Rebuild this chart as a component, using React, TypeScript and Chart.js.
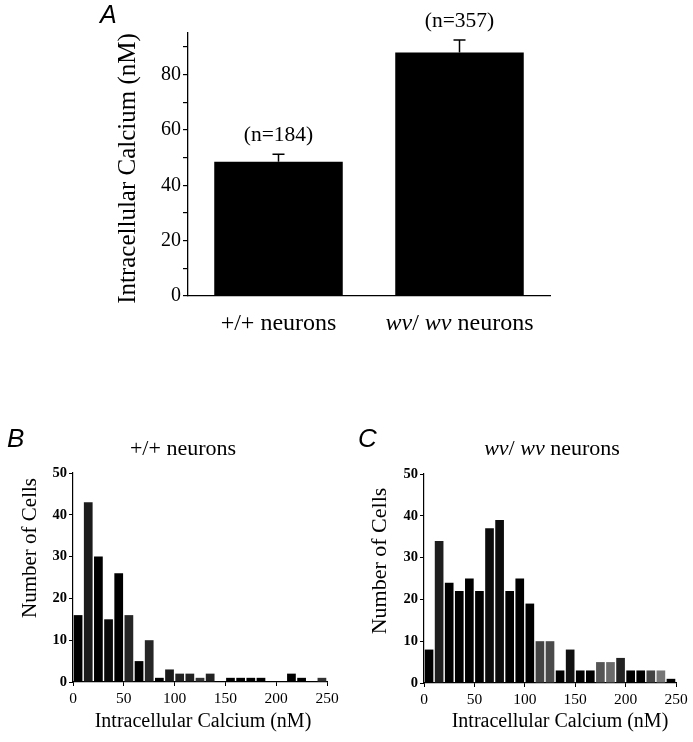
import React, { useEffect, useRef } from "react";
import { Chart, registerables } from "chart.js";

Chart.register(...registerables);

// ---------- DATA ----------
const categoriesA = ["+/+ neurons", "wv/ wv neurons"];
const meansA = [48.5, 88];
const errorsA = [2.7, 4.5];
const nLabelsA = ["(n=184)", "(n=357)"];
const yTicksA = [0, 20, 40, 60, 80];

// histogram bins (10 nM wide), bin centres
const binCenters = [5, 15, 25, 35, 45, 55, 65, 75, 85, 95, 105, 115, 125, 135, 145, 155, 165, 175, 185, 195, 205, 215, 225, 235, 245];
const countsB = [16, 43, 30, 15, 26, 16, 5, 10, 1, 3, 2, 2, 1, 2, 0, 1, 1, 1, 1, 0, 0, 2, 1, 0, 1];
const countsC = [8, 34, 24, 22, 25, 22, 37, 39, 22, 25, 19, 10, 10, 3, 8, 3, 3, 5, 5, 6, 3, 3, 3, 3, 1];
const xTicksHist = [0, 50, 100, 150, 200, 250];
const yTicksHist = [0, 10, 20, 30, 40, 50];

const titleB = "+/+ neurons";
const titleC = "wv/ wv neurons";
const xTitleHist = "Intracellular Calcium (nM)";
const yTitleHist = "Number of Cells";
const yTitleA = "Intracellular Calcium (nM)";

// ---------- STYLES ----------
const shadesB = ["#000", "#1c1c1c", "#000", "#0a0a0a", "#000", "#262626", "#000", "#262626", "#000", "#1a1a1a", "#222", "#222", "#333", "#222", "#000", "#000", "#000", "#000", "#000", "#000", "#000", "#000", "#000", "#000", "#333"];
const shadesC = ["#000", "#1e1e1e", "#000", "#000", "#000", "#000", "#0c0c0c", "#0c0c0c", "#000", "#000", "#000", "#444", "#4a4a4a", "#000", "#111", "#000", "#000", "#555", "#6a6a6a", "#222", "#000", "#000", "#444", "#777", "#000"];

const SERIF = "'Liberation Serif', 'Times New Roman', serif";
const SANS = "'Liberation Sans', Arial, sans-serif";

type TextItem = {
  text: string;
  x: number;
  y: number;
  size: number;
  align?: CanvasTextAlign;
  baseline?: CanvasTextBaseline;
  rotate?: boolean;
  family?: string;
  style?: string;
};

function drawMixed(ctx: CanvasRenderingContext2D, text: string, cx: number, y: number, size: number) {
  const parts = text.split(/(wv)/);
  const fontFor = (i: number) => `${i % 2 === 1 ? "italic " : ""}${size}px ${SERIF}`;
  let total = 0;
  parts.forEach((p, i) => {
    ctx.font = fontFor(i);
    total += ctx.measureText(p).width;
  });
  let x = cx - total / 2;
  ctx.textAlign = "left";
  ctx.textBaseline = "alphabetic";
  parts.forEach((p, i) => {
    ctx.font = fontFor(i);
    ctx.fillText(p, x, y);
    x += ctx.measureText(p).width;
  });
}

function drawTexts(ctx: CanvasRenderingContext2D, items: TextItem[]) {
  items.forEach((t) => {
    ctx.save();
    ctx.fillStyle = "#000";
    if (t.rotate) {
      ctx.translate(t.x, t.y);
      ctx.rotate(-Math.PI / 2);
      ctx.font = `${t.style || ""} ${t.size}px ${t.family || SERIF}`;
      ctx.textAlign = "center";
      ctx.textBaseline = "middle";
      ctx.fillText(t.text, 0, 0);
    } else if (!t.family && /wv/.test(t.text)) {
      drawMixed(ctx, t.text, t.x, t.y, t.size);
    } else {
      ctx.font = `${t.style || ""} ${t.size}px ${t.family || SERIF}`;
      ctx.textAlign = t.align || "center";
      ctx.textBaseline = t.baseline || "alphabetic";
      ctx.fillText(t.text, t.x, t.y);
    }
    ctx.restore();
  });
}

function useChart(ref: React.RefObject<HTMLCanvasElement>, build: (c: HTMLCanvasElement) => Chart) {
  useEffect(() => {
    if (!ref.current) return;
    const ch = build(ref.current);
    return () => ch.destroy();
  }, []);
}

function PanelA() {
  const ref = useRef<HTMLCanvasElement>(null);
  useChart(ref, (canvas) => {
    const W = 693, H = 345;
    const areaLeft = 188, areaRight = 550, areaTop = 33, areaBottom = 296;
    const plugin = {
      id: "panelA",
      afterDraw(chart: any) {
        const ctx = chart.ctx as CanvasRenderingContext2D;
        const xs = chart.scales.x, ys = chart.scales.y;
        const meta = chart.getDatasetMeta(0);
        ctx.save();
        ctx.strokeStyle = "#000";
        ctx.lineWidth = 1.5;
        meansA.forEach((m, i) => {
          const bar = meta.data[i];
          const cx = bar.x;
          const yTop = ys.getPixelForValue(m + errorsA[i]);
          const yBar = ys.getPixelForValue(m);
          ctx.beginPath();
          ctx.moveTo(cx, yBar);
          ctx.lineTo(cx, yTop);
          ctx.moveTo(cx - 6, yTop);
          ctx.lineTo(cx + 6, yTop);
          ctx.stroke();
        });
        ctx.restore();
        const items: TextItem[] = [];
        meansA.forEach((m, i) => {
          items.push({ text: nLabelsA[i], x: xs.getPixelForTick(i), y: ys.getPixelForValue(m + errorsA[i]) - 13, size: 21.5 });
          items.push({ text: categoriesA[i], x: xs.getPixelForTick(i), y: 330, size: 24 });
        });
        items.push({ text: yTitleA, x: 128, y: (areaTop + areaBottom) / 2 + 4, size: 25, rotate: true });
        items.push({ text: "A", x: 100, y: 23, size: 25, align: "left", family: SANS, style: "italic" });
        drawTexts(ctx, items);
      },
    };
    return new Chart(canvas, {
      type: "bar",
      data: {
        labels: categoriesA,
        datasets: [{ data: meansA, backgroundColor: "#000", borderWidth: 0, barPercentage: 0.71, categoryPercentage: 1 }],
      },
      options: {
        responsive: false,
        animation: false,
        layout: { padding: { left: 0, right: W - areaRight, top: areaTop, bottom: 0 } },
        plugins: { legend: { display: false }, tooltip: { enabled: false }, title: { display: false } },
        scales: {
          x: {
            type: "category",
            grid: { display: false, drawTicks: false },
            border: { display: true, color: "#000", width: 1.3 },
            ticks: { display: false },
            afterFit: (s: any) => { s.height = H - areaBottom; },
          },
          y: {
            min: 0,
            max: 95,
            grid: { drawOnChartArea: false, drawTicks: true, tickLength: 5, color: "#000", lineWidth: 1.2 },
            border: { display: true, color: "#000", width: 1.3 },
            ticks: {
              stepSize: 10,
              includeBounds: false,
              padding: 2,
              color: "#000",
              font: { family: SERIF, size: 20 },
              callback: (v: any) => (yTicksA.includes(Number(v)) ? String(v) : ""),
            },
            afterFit: (s: any) => { s.width = areaLeft; },
          },
        },
      },
      plugins: [plugin],
    } as any);
  });
  return <canvas ref={ref} width={693} height={345} style={{ position: "absolute", left: 0, top: 0, width: 693, height: 345 }} />;
}

function Histogram(props: {
  left: number; top: number; W: number; H: number;
  area: { left: number; right: number; top: number; bottom: number };
  counts: number[]; shades: string[]; title: string; letter: string;
  letterX: number; titleX: number; xTitleX: number; yTitleX: number; yTitleY: number; yTitleSize: number;
}) {
  const ref = useRef<HTMLCanvasElement>(null);
  const { W, H, area } = props;
  useChart(ref, (canvas) => {
    const plugin = {
      id: "hist" + props.letter,
      afterDraw(chart: any) {
        const ctx = chart.ctx as CanvasRenderingContext2D;
        drawTexts(ctx, [
          { text: props.letter, x: props.letterX, y: 27, size: 26, align: "left", family: SANS, style: "italic" },
          { text: props.title, x: props.titleX, y: 35, size: 22 },
          { text: xTitleHist, x: props.xTitleX, y: 307, size: 20 },
          { text: yTitleHist, x: props.yTitleX, y: props.yTitleY, size: props.yTitleSize, rotate: true },
        ]);
      },
    };
    return new Chart(canvas, {
      type: "bar",
      data: {
        datasets: [{
          data: binCenters.map((c, i) => ({ x: c, y: props.counts[i] })),
          backgroundColor: props.shades,
          borderWidth: 0,
          barPercentage: 0.86,
          categoryPercentage: 1,
        }],
      },
      options: {
        responsive: false,
        animation: false,
        layout: { padding: { left: 0, right: W - area.right, top: area.top, bottom: 0 } },
        plugins: { legend: { display: false }, tooltip: { enabled: false }, title: { display: false } },
        scales: {
          x: {
            type: "linear",
            offset: false,
            min: 0,
            max: 250,
            grid: { offset: false, drawOnChartArea: false, drawTicks: true, tickLength: 4, color: "#000", lineWidth: 1 },
            border: { display: true, color: "#000", width: 1.2 },
            ticks: {
              stepSize: 50,
              padding: 4,
              maxRotation: 0,
              color: "#000",
              font: { family: SERIF, size: 15.5 },
              callback: (v: any) => (xTicksHist.includes(Number(v)) ? String(v) : ""),
            },
            afterFit: (s: any) => { s.height = H - area.bottom; },
          },
          y: {
            min: 0,
            max: 50,
            grid: { drawOnChartArea: false, drawTicks: true, tickLength: 4, color: "#000", lineWidth: 1 },
            border: { display: true, color: "#000", width: 1.2 },
            ticks: {
              stepSize: 10,
              padding: 2,
              color: "#000",
              font: { family: SERIF, size: 14.5, weight: "bold" },
              callback: (v: any) => (yTicksHist.includes(Number(v)) ? String(v) : ""),
            },
            afterFit: (s: any) => { s.width = area.left; },
          },
        },
      },
      plugins: [plugin],
    } as any);
  });
  return <canvas ref={ref} width={W} height={H} style={{ position: "absolute", left: props.left, top: props.top, width: W, height: H }} />;
}

export default function App() {
  return (
    <div style={{ position: "absolute", left: 0, top: 0, width: 693, height: 742, background: "#fff" }}>
      <PanelA />
      <Histogram
        left={0} top={420} W={346} H={322}
        area={{ left: 73, right: 327, top: 53, bottom: 262 }}
        counts={countsB} shades={shadesB} title={titleB} letter="B"
        letterX={7} titleX={183} xTitleX={203} yTitleX={30} yTitleY={128} yTitleSize={21}
      />
      <Histogram
        left={346} top={420} W={347} H={322}
        area={{ left: 78, right: 330, top: 54, bottom: 263 }}
        counts={countsC} shades={shadesC} title={titleC} letter="C"
        letterX={12} titleX={206} xTitleX={214} yTitleX={34} yTitleY={141} yTitleSize={22}
      />
    </div>
  );
}
